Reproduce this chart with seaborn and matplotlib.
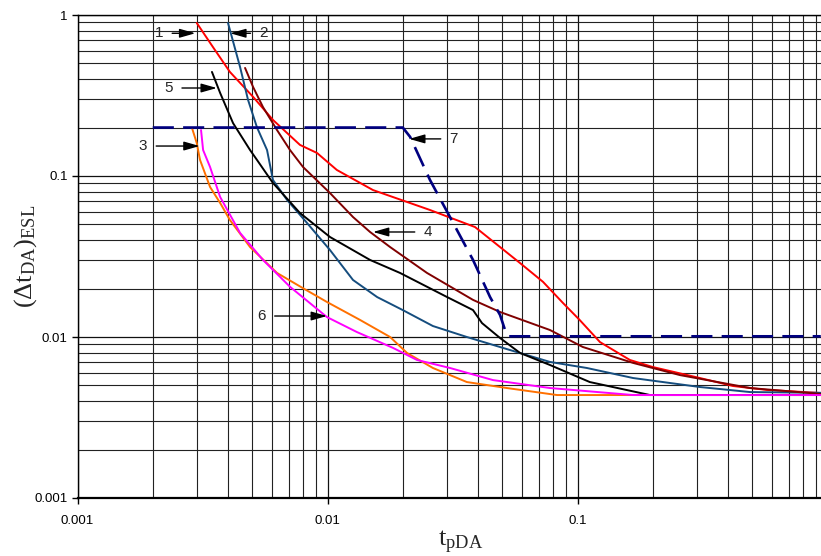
import matplotlib
matplotlib.use("Agg")
import matplotlib.pyplot as plt
import matplotlib.ticker as mticker
import seaborn as sns
import pandas as pd

# ---- data ----
c1_x = [0.0030, 0.00348, 0.00407, 0.00504, 0.00605, 0.00776, 0.00908, 0.0109, 0.0152, 0.0257,
        0.0389, 0.049, 0.0589, 0.0728, 0.0875, 0.102, 0.123, 0.162, 0.200, 0.309, 0.419, 0.573, 0.94]
c1_y = [0.892, 0.633, 0.443, 0.310, 0.223, 0.156, 0.139, 0.109, 0.0818, 0.0615,
        0.0482, 0.0362, 0.0288, 0.0220, 0.01626, 0.01276, 0.0093, 0.0072, 0.00651, 0.00556, 0.00496, 0.00469, 0.00449]

c2_x = [0.0040, 0.00447, 0.00481, 0.00522, 0.00573, 0.00605, 0.00689, 0.00828, 0.01023, 0.01265,
        0.0158, 0.020, 0.0264, 0.0361, 0.0537, 0.0776, 0.109, 0.167, 0.309, 0.49, 0.94]
c2_y = [0.892, 0.475, 0.297, 0.201, 0.145, 0.0945, 0.071, 0.0511, 0.0347, 0.0226,
        0.0177, 0.0147, 0.0117, 0.0100, 0.0083, 0.0070, 0.00642, 0.00556, 0.00489, 0.00455, 0.0045]

c3_x = [0.00287, 0.0030, 0.00309, 0.00339, 0.00372, 0.00407, 0.0049, 0.00628, 0.00798, 0.00995,
        0.0135, 0.0178, 0.0208, 0.0264, 0.0361, 0.0522, 0.0828, 0.94]
c3_y = [0.199, 0.160, 0.126, 0.0855, 0.068, 0.0533, 0.0362, 0.025, 0.0201, 0.0165,
        0.01276, 0.0100, 0.00796, 0.00642, 0.00525, 0.00482, 0.00436, 0.00436]

c4_x = [0.00468, 0.00504, 0.00552, 0.00628, 0.00708, 0.00798, 0.01023, 0.01265, 0.0148, 0.0178,
        0.025, 0.0382, 0.049, 0.0776, 0.105, 0.167, 0.257, 0.49, 0.94]
c4_y = [0.469, 0.357, 0.268, 0.193, 0.145, 0.1138, 0.0784, 0.0556, 0.0449, 0.0362,
        0.025, 0.0170, 0.0143, 0.01105, 0.00867, 0.0069, 0.0058, 0.00482, 0.00443]

c5_x = [0.00345, 0.00372, 0.00419, 0.0049, 0.00522, 0.00605, 0.00776, 0.01023, 0.0148, 0.0195,
        0.0301, 0.0382, 0.0415, 0.049, 0.0589, 0.0776, 0.112, 0.195, 0.94]
c5_y = [0.443, 0.328, 0.213, 0.145, 0.126, 0.0905, 0.0589, 0.0418, 0.0301, 0.025,
        0.0177, 0.0147, 0.0122, 0.00986, 0.00796, 0.0067, 0.00525, 0.00436, 0.00436]

c6_x = [0.00312, 0.00318, 0.00339, 0.00372, 0.00447, 0.00552, 0.00708, 0.00995, 0.0131, 0.0183,
        0.0228, 0.0309, 0.0459, 0.0776, 0.167, 0.94]
c6_y = [0.193, 0.145, 0.1138, 0.0741, 0.0443, 0.0301, 0.0205, 0.0133, 0.01074, 0.00855,
        0.0072, 0.00642, 0.0054, 0.00482, 0.00436, 0.00436]

c7_x = [0.002, 0.020, 0.0214, 0.0257, 0.0309, 0.0382, 0.0447, 0.049, 0.0513, 0.0527, 0.0664, 0.94]
c7_y = [0.2, 0.2, 0.175, 0.0945, 0.0556, 0.0301, 0.0177, 0.0137, 0.01105, 0.0101, 0.0101, 0.0101]

x_ticks = [0.001, 0.01, 0.1]
x_tick_labels = ["0.001", "0.01", "0.1"]
y_ticks = [0.001, 0.01, 0.1, 1]
y_tick_labels = ["0.001", "0.01", "0.1", "1"]

# curve labels: (text, text_x, text_y, arrow_x, arrow_y)
labels = ["1", "2", "3", "4", "5", "6", "7"]
label_tx = [0.00212, 0.00555, 0.00183, 0.0252, 0.00232, 0.00545, 0.0320]
label_ty = [0.77, 0.77, 0.1535, 0.0449, 0.352, 0.0135, 0.170]
label_hx = [0.00296, 0.00408, 0.00308, 0.0152, 0.00361, 0.00995, 0.0212]
label_hy = [0.77, 0.77, 0.1535, 0.0449, 0.352, 0.0135, 0.170]

series = [
    ("1", c1_x, c1_y, "#ff0000", "-"),
    ("2", c2_x, c2_y, "#154d7e", "-"),
    ("3", c3_x, c3_y, "#ff7000", "-"),
    ("4", c4_x, c4_y, "#800000", "-"),
    ("5", c5_x, c5_y, "#000000", "-"),
    ("6", c6_x, c6_y, "#ff00ff", "-"),
    ("7", c7_x, c7_y, "#000080", "--"),
]

sns.set_style("white")
plt.rcParams["font.family"] = ["Liberation Sans", "DejaVu Sans"]
plt.rcParams["mathtext.fontset"] = "custom"
plt.rcParams["mathtext.rm"] = "Liberation Serif"
plt.rcParams["mathtext.it"] = "Liberation Serif"

fig = plt.figure(figsize=(8.21, 5.56), dpi=100)
ax = fig.add_axes([77.5 / 821, 58 / 556, 750 / 821, 483 / 556])
ax.set_xscale("log")
ax.set_yscale("log")
ax.set_xlim(0.001, 1)
ax.set_ylim(0.001, 1)

# draw grid first
ax.set_axisbelow(True)
ax.xaxis.set_minor_locator(mticker.LogLocator(base=10, subs=range(2, 10)))
ax.yaxis.set_minor_locator(mticker.LogLocator(base=10, subs=range(2, 10)))
ax.grid(which="major", color="#111111", linewidth=0.9)
ax.grid(which="minor", color="#222222", linewidth=0.8)

for name, xs, ys, col, ls in series:
    df = pd.DataFrame({"x": xs, "y": ys})
    lw = 1.9 if ls == "--" else 1.4
    line = sns.lineplot(data=df, x="x", y="y", ax=ax, color=col, linewidth=lw,
                        sort=False, estimator=None, legend=False)
    if ls == "--":
        line.lines[-1].set_dashes([8, 3.5])

for t, tx, ty, hx, hy in zip(labels, label_tx, label_ty, label_hx, label_hy):
    ax.annotate(t, xy=(hx, hy), xytext=(tx, ty), fontsize=11, ha="center", va="center",
                arrowprops=dict(arrowstyle="-|>,head_length=0.95,head_width=0.27",
                                color="black", lw=1.0,
                                mutation_scale=10, shrinkA=4, shrinkB=0))

ax.xaxis.set_major_locator(mticker.FixedLocator(x_ticks))
ax.xaxis.set_major_formatter(mticker.FixedFormatter(x_tick_labels))
ax.yaxis.set_major_locator(mticker.FixedLocator(y_ticks))
ax.yaxis.set_major_formatter(mticker.FixedFormatter(y_tick_labels))
ax.xaxis.set_minor_formatter(mticker.NullFormatter())
ax.yaxis.set_minor_formatter(mticker.NullFormatter())
ax.tick_params(which="major", direction="out", length=4, width=1, labelsize=9.5,
               colors="black", pad=8, left=True, bottom=True)
ax.tick_params(which="minor", length=0)
ax.tick_params(axis="y", pad=3)

for s in ax.spines.values():
    s.set_color("black")
    s.set_linewidth(1.0)
ax.spines["bottom"].set_linewidth(1.6)

ax.set_xlabel(r"$\mathrm{t_{pDA}}$", fontsize=19)
ax.xaxis.set_label_coords(0.511, -0.064)
ax.set_ylabel(r"$\mathrm{(\Delta t_{DA})_{ESL}}$", fontsize=19)
ax.yaxis.set_label_coords(-0.051, 0.5)

fig.savefig("out.png", dpi=100)
